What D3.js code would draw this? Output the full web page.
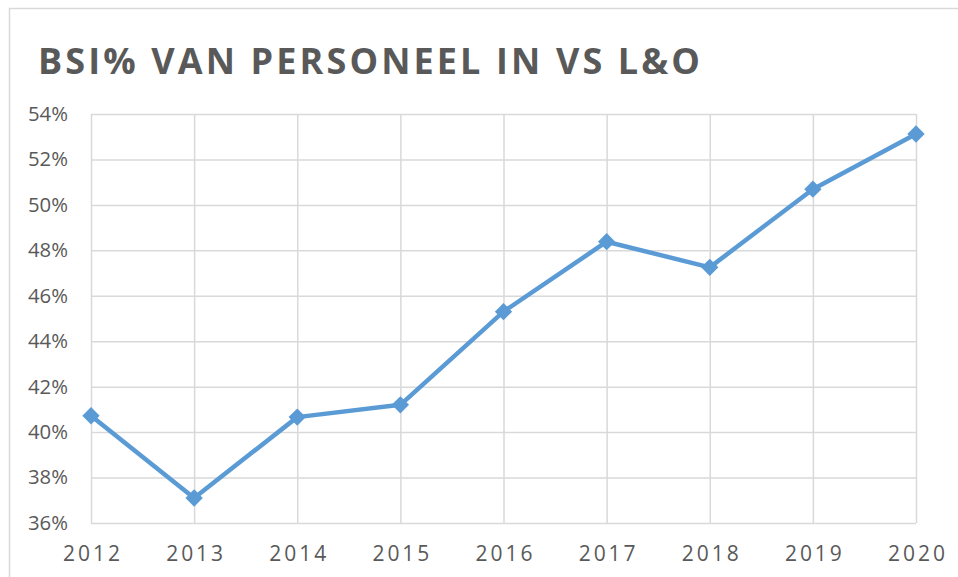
<!DOCTYPE html>
<html>
<head>
<meta charset="utf-8">
<script src="https://cdn.jsdelivr.net/npm/d3@7"></script>
<style>
  html, body { margin: 0; padding: 0; background: #fff; }
  svg { display: block; }
</style>
</head>
<body>
<svg id="chart" width="958" height="577"></svg>
<script>
const title = "BSI% VAN PERSONEEL IN VS L&O";
const years = ["2012", "2013", "2014", "2015", "2016", "2017", "2018", "2019", "2020"];
const values = [40.72, 37.10, 40.66, 41.20, 45.30, 48.38, 47.25, 50.69, 53.12];
const yTicks = [36, 38, 40, 42, 44, 46, 48, 50, 52, 54];

const svg = d3.select("#chart");
const W = 958, H = 577;
const m = { left: 91, right: 958 - 916, top: 114, bottom: 577 - 523 };

// chart frame (cropped at right and bottom)
svg.append("rect")
  .attr("x", 9.5).attr("y", 8.5)
  .attr("width", W + 20).attr("height", H + 20)
  .attr("fill", "#fff").attr("stroke", "#d9d9d9").attr("stroke-width", 1.5);

const x = d3.scalePoint().domain(years).range([m.left, W - m.right]);
const y = d3.scaleLinear().domain([36, 54]).range([H - m.bottom, m.top]);

const font = "'Open Sans', 'Liberation Sans', sans-serif";
const grey = "#595959";

// horizontal gridlines + y labels
const yAxis = d3.axisLeft(y).tickValues(yTicks)
  .tickSize(-(x.range()[1] - x.range()[0]))
  .tickPadding(23)
  .tickFormat(d => d + "%");
const gy = svg.append("g").attr("transform", `translate(${m.left},0)`).call(yAxis);
gy.select(".domain").remove();
gy.selectAll("line").attr("stroke", "#d9d9d9").attr("stroke-width", 1.5);
gy.selectAll("text").attr("fill", grey).style("font-family", font).style("font-size", "20px")
  .attr("textLength", 40).attr("lengthAdjust", "spacingAndGlyphs");

// vertical gridlines + x labels
const xAxis = d3.axisBottom(x).tickSize(-(y.range()[0] - y.range()[1])).tickPadding(23);
const gx = svg.append("g").attr("transform", `translate(0,${H - m.bottom})`).call(xAxis);
gx.select(".domain").remove();
gx.selectAll("line").attr("stroke", "#d9d9d9").attr("stroke-width", 1.5);
gx.selectAll("text").attr("fill", grey).style("font-family", font).style("font-size", "21px")
  .attr("textLength", 57).attr("lengthAdjust", "spacing");

// title
svg.append("text")
  .attr("x", 38).attr("y", 74)
  .attr("fill", grey)
  .style("font-family", font).style("font-size", "36px").style("font-weight", "bold")
  .attr("textLength", 662).attr("lengthAdjust", "spacing")
  .text(title);

// line
const data = years.map((yr, i) => ({ yr, v: values[i] }));
svg.append("path")
  .datum(data)
  .attr("fill", "none").attr("stroke", "#5b9bd5").attr("stroke-width", 4.5)
  .attr("stroke-linejoin", "round")
  .attr("d", d3.line().x(d => x(d.yr)).y(d => y(d.v)));

// diamond markers
const sym = d3.symbol().type(d3.symbolSquare).size(150);
svg.append("g").selectAll("path").data(data).join("path")
  .attr("d", sym)
  .attr("fill", "#5b9bd5")
  .attr("transform", d => `translate(${x(d.yr)},${y(d.v)}) rotate(45)`);
</script>
</body>
</html>
